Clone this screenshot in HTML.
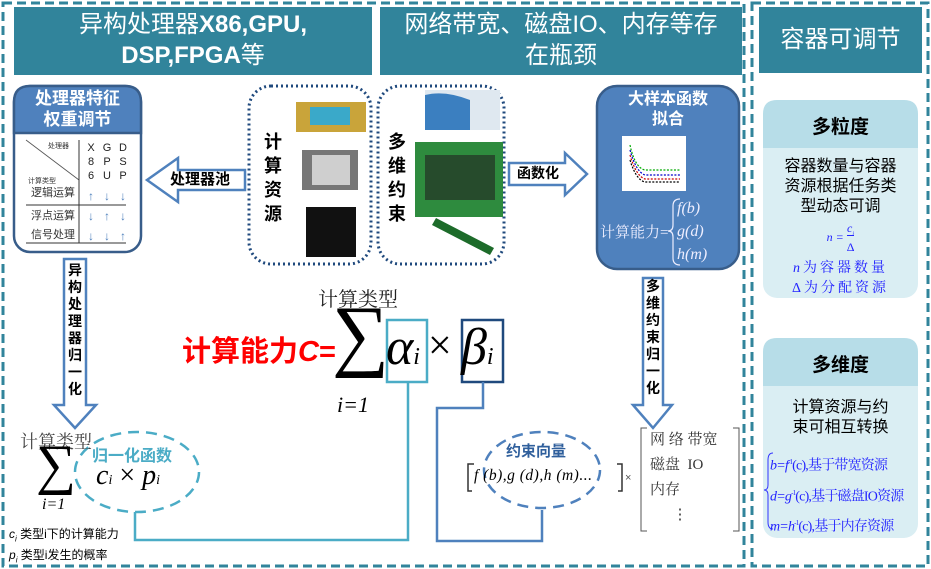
<!DOCTYPE html>
<html><head><meta charset="utf-8"><style>
body{margin:0;width:931px;height:569px;background:#fff;position:relative;overflow:hidden;font-family:"Liberation Sans","Noto Sans CJK SC",sans-serif}
.a{position:absolute}
.hd{position:absolute;background:#31849b;color:#fff;text-align:center;font-size:24px;line-height:31px}
.serif{font-family:"Liberation Serif","Noto Serif CJK SC",serif}
.vt{position:absolute;font-weight:bold;font-size:14px;line-height:17px;width:18px;text-align:center;color:#000}
</style></head><body>
<svg class="a" style="left:0;top:0" width="931" height="569">
 <rect x="3" y="3" width="741" height="563" fill="none" stroke="#31849b" stroke-width="3" stroke-dasharray="9,5"/>
 <rect x="752" y="3" width="176" height="563" fill="none" stroke="#31849b" stroke-width="3" stroke-dasharray="9,5"/>
 <rect x="14" y="86" width="127" height="166" rx="16" fill="#fff" stroke="#385d8a" stroke-width="2.5"/>
 <path d="M14 133 V102 Q14 86 30 86 H125 Q141 86 141 102 V133 Z" fill="#4f81bd" stroke="#385d8a" stroke-width="2.5"/>
 <line x1="26" y1="140" x2="79" y2="180" stroke="#555" stroke-width="0.8"/>
 <line x1="79" y1="140" x2="79" y2="243" stroke="#333" stroke-width="1"/>
 <line x1="26" y1="205" x2="126" y2="205" stroke="#333" stroke-width="1"/>
 <line x1="26" y1="243" x2="126" y2="243" stroke="#333" stroke-width="1"/>
 <path d="M245 170 H178 V158 L147 180 L178 202 V190 H245 Z" fill="#fff" stroke="#4f81bd" stroke-width="2.5"/>
 <rect x="249" y="86" width="122" height="178" rx="22" fill="none" stroke="#1f497d" stroke-width="3" stroke-dasharray="2,3"/>
 <rect x="378" y="86" width="126" height="178" rx="22" fill="none" stroke="#1f497d" stroke-width="3" stroke-dasharray="2,3"/>
 <path d="M509 163 H565 V153 L587 174 L565 195 V185 H509 Z" fill="#fff" stroke="#4f81bd" stroke-width="2.5"/>
 <rect x="597" y="86" width="142" height="183" rx="20" fill="#4f81bd" stroke="#385d8a" stroke-width="2.5"/>
 <rect x="622" y="136" width="64" height="55" fill="#fff"/>
 <g stroke-width="1.2" stroke-dasharray="2,1.5" fill="none">
  <path d="M630 145 Q635 168 645 170 H680" stroke="#0a0"/>
  <path d="M630 150 Q636 172 645 175 H680" stroke="#00c"/>
  <path d="M630 155 Q636 176 645 179 H680" stroke="#c00"/>
  <path d="M630 160 Q636 180 645 182 H680" stroke="#000"/>
 </g>
 <path d="M680 199 Q673 199 673 206 V225 Q673 231 668 231 Q673 231 673 237 V258 Q673 265 680 265" fill="none" stroke="#eef" stroke-width="1.2"/>
 <path d="M64 259 H86 V405 H96 L75 428 L54 405 H64 Z" fill="#fff" stroke="#4f81bd" stroke-width="2.5"/>
 <path d="M643 278 H663 V405 H672 L653 428 L633 405 H643 Z" fill="#fff" stroke="#4f81bd" stroke-width="2.5"/>
 <rect x="387" y="320" width="40" height="62" fill="none" stroke="#4bacc6" stroke-width="2.5"/>
 <rect x="462" y="320" width="41" height="62" fill="none" stroke="#1f497d" stroke-width="2.5"/>
 <path d="M408 382 V540 H135 V512" fill="none" stroke="#4bacc6" stroke-width="2.5"/>
 <path d="M483 382 V408 H437 V541 H542 V510" fill="none" stroke="#4f81bd" stroke-width="2.5"/>
 <ellipse cx="137" cy="472" rx="62" ry="40" fill="#fff" stroke="#4bacc6" stroke-width="2.5" stroke-dasharray="11,7"/>
 <ellipse cx="542" cy="470" rx="58" ry="38" fill="#fff" stroke="#4f81bd" stroke-width="2.5" stroke-dasharray="11,7"/>
 <path d="M647 428 H641 V531 H647 M733 428 H739 V531 H733" fill="none" stroke="#555" stroke-width="1"/>
 <path d="M474 464 H468 V491 H472 M617 464 H622 V491 H618" fill="none" stroke="#333" stroke-width="1.5"/>
 <rect x="763" y="100" width="155" height="198" rx="14" fill="#daeef3"/>
 <path d="M763 148 V114 Q763 100 777 100 H904 Q918 100 918 114 V148 Z" fill="#b7dde8"/>
 <rect x="763" y="338" width="155" height="200" rx="14" fill="#daeef3"/>
 <path d="M763 386 V352 Q763 338 777 338 H904 Q918 338 918 352 V386 Z" fill="#b7dde8"/>
 <path d="M773 453 Q768 453 768 460 V485 Q768 490 764 490 Q768 490 768 495 V522 Q768 529 773 529" fill="none" stroke="#33f" stroke-width="1"/>
 <rect x="296" y="102" width="70" height="30" fill="#c9a43a"/><rect x="310" y="107" width="40" height="18" fill="#3aa9c9"/>
 <rect x="302" y="150" width="56" height="40" fill="#777"/><rect x="312" y="155" width="38" height="30" fill="#cfcfcf"/>
 <rect x="306" y="207" width="50" height="50" fill="#111"/>
 <rect x="425" y="90" width="75" height="40" fill="#dfe8f0"/><path d="M425 95 Q445 90 470 100 L470 130 H425Z" fill="#3b7fc0"/>
 <rect x="415" y="142" width="88" height="75" fill="#2e8b3e"/><rect x="425" y="155" width="70" height="45" fill="#222" opacity=".6"/>
 <path d="M432 225 L490 255 L494 248 L436 218 Z" fill="#1d6b2a"/>
</svg>
<div class="hd" style="left:14px;top:7px;width:358px;height:66px;padding-top:2px">异构处理器<b>X86,GPU,</b><br><b>DSP,FPGA</b>等</div>
<div class="hd" style="left:380px;top:7px;width:362px;height:66px;padding-top:2px">网络带宽、磁盘IO、内存等存<br>在瓶颈</div>
<div class="hd" style="left:759px;top:7px;width:163px;height:66px;line-height:66px">容器可调节</div>

<div class="a" style="left:14px;top:88px;width:127px;text-align:center;color:#fff;font-weight:bold;font-size:17px;line-height:21px">处理器特征<br>权重调节</div>
<div class="a" style="left:48px;top:141px;font-size:7px;color:#333">处理器</div>
<div class="a" style="left:28px;top:176px;font-size:7px;color:#333">计算类型</div>
<div class="a" style="left:31px;top:184px;font-size:11px;color:#333">逻辑运算</div>
<div class="a" style="left:31px;top:207px;font-size:11px;color:#333">浮点运算</div>
<div class="a" style="left:31px;top:226px;font-size:11px;color:#333">信号处理</div>
<div class="a" style="left:83px;top:141px;font-size:11px;line-height:14px;color:#222;width:50px">
<span style="display:inline-block;width:16px;text-align:center">X<br>8<br>6</span><span style="display:inline-block;width:16px;text-align:center">G<br>P<br>U</span><span style="display:inline-block;width:16px;text-align:center">D<br>S<br>P</span></div>
<div class="a" style="left:83px;top:186px;font-size:12px;line-height:20px;color:#4f81bd;width:50px">
<span style="display:inline-block;width:16px;text-align:center">↑<br>↓<br>↓</span><span style="display:inline-block;width:16px;text-align:center">↓<br>↑<br>↓</span><span style="display:inline-block;width:16px;text-align:center">↓<br>↓<br>↑</span></div>

<div class="a" style="left:170px;top:168px;font-weight:bold;font-size:15px">处理器池</div>
<div class="a" style="left:517px;top:163px;font-weight:bold;font-size:14px">函数化</div>
<div class="vt" style="left:262px;top:130px;font-size:18px;line-height:24px;width:22px">计<br>算<br>资<br>源</div>
<div class="vt" style="left:386px;top:130px;font-size:18px;line-height:24px;width:22px">多<br>维<br>约<br>束</div>

<div class="a" style="left:597px;top:90px;width:142px;text-align:center;color:#fff;font-weight:bold;font-size:16px;line-height:20px">大样本函数<br>拟合</div>
<div class="a serif" style="left:600px;top:221px;color:#eef;font-size:15px;white-space:nowrap">计算能力=</div>
<div class="a serif" style="left:677px;top:197px;color:#eef;font-size:16px;font-style:italic;line-height:23px">f(b)<br>g(d)<br>h(m)</div>

<div class="vt" style="left:66px;top:262px;">异<br>构<br>处<br>理<br>器<br>归<br>一<br>化</div>
<div class="vt" style="left:644px;top:278px;">多<br>维<br>约<br>束<br>归<br>一<br>化</div>

<div class="a" style="left:182px;top:328px;color:#f00;font-weight:bold;font-size:29px">计算能力<i>C</i>=</div>
<div class="a serif" style="left:318px;top:283px;font-size:20px;color:#222">计算类型</div>
<div class="a serif" style="left:332px;top:290px;font-size:80px;line-height:90px">∑</div>
<div class="a serif" style="left:337px;top:392px;font-size:22px;font-style:italic">i=1</div>
<div class="a serif" style="left:386px;top:318px;font-size:52px;font-style:italic;line-height:60px">α<span style="font-size:24px">i</span></div>
<div class="a serif" style="left:428px;top:322px;font-size:42px">×</div>
<div class="a serif" style="left:461px;top:318px;font-size:52px;font-style:italic;line-height:60px">β<span style="font-size:24px">i</span></div>

<div class="a serif" style="left:20px;top:428px;font-size:18px;color:#444">计算类型</div>
<div class="a serif" style="left:36px;top:430px;font-size:56px;line-height:70px">∑</div>
<div class="a serif" style="left:42px;top:496px;font-size:16px;font-style:italic">i=1</div>
<div class="a" style="left:92px;top:442px;font-weight:bold;font-size:16px;color:#4bacc6">归一化函数</div>
<div class="a serif" style="left:96px;top:460px;font-size:28px;font-style:italic">c<span style="font-size:14px">i</span> <span style="font-style:normal">×</span> p<span style="font-size:14px">i</span></div>
<div class="a" style="left:9px;top:526px;font-size:12px;line-height:17px"><i>c<sub style="font-size:8px">i</sub></i> 类型i下的计算能力<br><i>p<sub style="font-size:8px">i</sub></i> 类型i发生的概率</div>

<div class="a" style="left:506px;top:440px;font-weight:bold;font-size:15px;color:#2f5f9c">约束向量</div>
<div class="a serif" style="left:474px;top:467px;font-size:15.5px;font-style:italic;letter-spacing:0.5px;white-space:nowrap">f (b),g (d),h (m)...</div>
<div class="a" style="left:625px;top:472px;font-size:11px;color:#555">×</div>
<div class="a serif" style="left:650px;top:428px;font-size:15px;line-height:25px;color:#333">网 络 带宽<br>磁盘&nbsp; IO<br>内存<br>&nbsp; &nbsp; &nbsp; ⋮</div>

<div class="a" style="left:763px;top:112px;width:155px;text-align:center;font-weight:bold;font-size:19px">多粒度</div>
<div class="a" style="left:763px;top:157px;width:155px;text-align:center;font-size:16px;line-height:20px">容器数量与容器<br>资源根据任务类<br>型动态可调</div>
<div class="a serif" style="left:763px;top:222px;width:155px;text-align:center;font-size:12px;color:#22f;font-style:italic">n = <span style="display:inline-block;vertical-align:middle;text-align:center;line-height:13px"><span style="border-bottom:1px solid #22f">c<sub style="font-size:6px">i</sub></span><br><span style="font-style:normal">Δ</span></span></div>
<div class="a serif" style="left:763px;top:259px;width:155px;text-align:center;font-size:14px;color:#22f;letter-spacing:3px;line-height:20px"><i>n</i>为容器数量<br>Δ为分配资源</div>

<div class="a" style="left:763px;top:350px;width:155px;text-align:center;font-weight:bold;font-size:19px">多维度</div>
<div class="a" style="left:763px;top:398px;width:155px;text-align:center;font-size:16px;line-height:20px">计算资源与约<br>束可相互转换</div>
<div class="a serif" style="left:770px;top:449px;font-size:14px;color:#22f;line-height:26px;white-space:nowrap;letter-spacing:-0.8px"><i>b=f</i><sup style="font-size:7px">-1</sup>(c),基于带宽资源<br><i>d=g</i><sup style="font-size:7px">-1</sup>(c),基于磁盘IO资源<br><i>m=h</i><sup style="font-size:7px">-1</sup>(c),基于内存资源</div>
</body></html>
